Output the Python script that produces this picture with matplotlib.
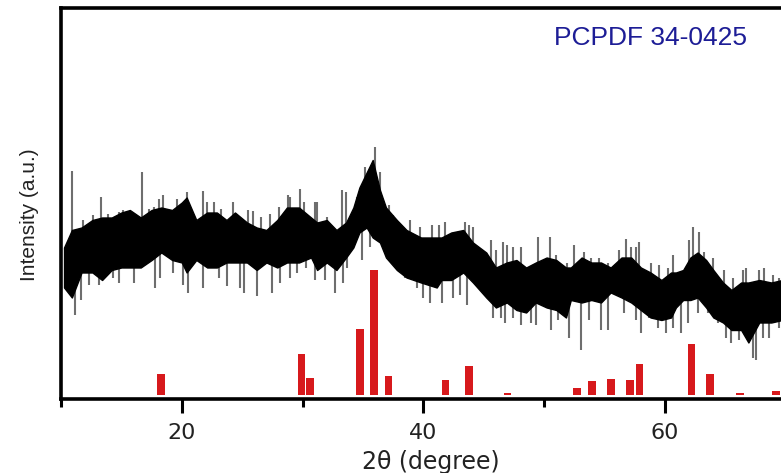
import numpy as np
import matplotlib
matplotlib.use("Agg")
import matplotlib.pyplot as plt
from matplotlib import font_manager
from matplotlib.ticker import MultipleLocator

# ---------------- data ----------------
# Reference pattern PCPDF 34-0425: peak positions (2theta) and relative intensities
ref_pos = [18.29, 29.92, 30.60, 34.74, 35.89, 37.13, 41.84, 43.78, 46.94,
           52.73, 53.94, 55.54, 57.11, 57.88, 62.21, 63.72, 66.20, 69.17]
ref_int = [17, 33, 14, 53, 100, 15, 12, 23, 2,
           6, 11, 13, 12, 25, 41, 17, 2, 3]

# Measured pattern: dense core band (upper / lower envelope)
core_x = [10.25, 10.9, 11.7, 12.6, 13.4, 14.2, 15.0, 15.7, 16.6, 17.5, 18.3, 19.2,
          20.0, 20.4, 21.2, 22.1, 22.9, 23.7, 24.4, 25.4, 26.2, 27.0, 27.9, 28.7,
          29.7, 30.7, 31.2, 32.0, 32.8, 33.6, 34.2, 34.7, 35.3, 35.8, 36.4, 36.9,
          37.8, 38.6, 39.8, 41.1, 41.5, 42.3, 43.3, 44.1, 45.2, 46.0, 46.9, 47.7,
          48.5, 49.3, 50.2, 51.0, 51.8, 52.2, 53.1, 53.9, 54.7, 55.5, 56.4, 57.2,
          58.0, 58.8, 59.7, 60.5, 60.9, 61.5, 62.1, 62.7, 63.4, 64.0, 64.8, 65.5,
          66.3, 66.9, 67.8, 68.8, 69.7]
core_hi = [118, 132, 134, 140, 142, 142, 146, 148, 142, 148, 150, 148,
           154, 158, 140, 146, 146, 140, 146, 138, 134, 132, 140, 150,
           150, 142, 138, 140, 132, 138, 150, 166, 178, 188, 164, 150,
           140, 132, 126, 126, 126, 130, 132, 122, 114, 102, 106, 108,
           102, 106, 110, 108, 102, 102, 110, 106, 106, 102, 110, 110,
           102, 98, 92, 98, 98, 100, 110, 114, 108, 100, 90, 84,
           90, 90, 92, 90, 92]
core_lo = [86, 78, 98, 98, 92, 100, 102, 102, 102, 108, 114, 108,
           106, 98, 108, 102, 102, 106, 106, 106, 100, 106, 102, 106,
           106, 110, 100, 106, 100, 110, 118, 130, 134, 126, 122, 110,
           100, 94, 90, 86, 92, 92, 98, 90, 78, 70, 74, 68,
           66, 74, 70, 68, 62, 76, 74, 76, 74, 82, 78, 74,
           68, 62, 60, 62, 70, 76, 76, 78, 70, 62, 58, 52,
           52, 42, 58, 58, 60]

# Measured pattern: isolated spikes above the band
up_x = [10.91, 11.84, 12.67, 13.28, 13.91, 14.77, 15.15, 15.56, 16.67, 17.30, 17.71,
        18.10, 18.45, 18.87, 19.61, 20.39, 21.74, 22.12, 22.67, 23.25, 24.27, 24.82,
        25.51, 25.93, 26.53, 27.30, 28.07, 28.76, 28.95, 29.78, 30.11, 31.02, 31.18,
        32.01, 33.25, 33.61, 34.49, 35.18, 36.01, 36.42, 37.11, 37.52, 38.90, 39.73,
        40.69, 41.32, 41.82, 42.73, 43.41, 43.74, 44.11, 45.56, 46.03, 46.59, 46.94,
        47.41, 48.10, 49.48, 50.44, 50.99, 51.90, 52.50, 53.33, 53.88, 54.57, 55.26,
        56.22, 56.78, 57.19, 57.60, 57.88, 58.84, 59.53, 60.22, 60.64, 62.01, 62.29,
        62.83, 63.25, 63.94, 64.90, 65.59, 66.42, 66.69, 67.79, 68.21, 68.90, 69.45]
up_y = [179, 140, 144, 158, 145, 146, 148, 147, 178, 149, 150,
        157, 160, 149, 157, 162, 163, 154, 154, 149, 154, 140,
        148, 147, 142, 145, 150, 160, 158, 165, 154, 154, 154,
        142, 164, 162, 158, 182, 198, 178, 152, 144, 140, 134,
        136, 136, 138, 130, 138, 136, 134, 124, 116, 122, 120,
        118, 118, 126, 126, 112, 106, 120, 114, 110, 110, 106,
        116, 125, 118, 118, 122, 106, 104, 102, 112, 124, 134,
        130, 114, 110, 100, 94, 100, 102, 100, 102, 96, 94]

# Measured pattern: isolated spikes below the band
dn_x = [11.13, 11.68, 12.29, 13.17, 14.32, 14.82, 16.03, 17.77, 18.18, 19.28, 20.06,
        20.52, 21.74, 22.29, 23.06, 23.72, 24.82, 25.15, 26.26, 27.44, 28.12, 28.95,
        29.50, 30.27, 31.02, 31.88, 32.70, 33.33, 33.66, 34.90, 35.60, 36.83, 37.25,
        38.49, 39.45, 40.00, 40.55, 41.51, 42.45, 43.00, 43.64, 45.76, 46.45, 46.72,
        47.41, 48.10, 48.87, 49.34, 50.58, 51.13, 52.09, 53.06, 53.74, 54.71, 55.26,
        56.64, 57.60, 58.02, 58.70, 59.40, 60.08, 60.64, 61.32, 61.88, 62.70, 63.53,
        64.36, 65.04, 65.45, 66.14, 66.83, 67.25, 67.52, 68.07, 68.63, 69.45]
dn_y = [64, 76, 88, 88, 94, 90, 90, 86, 94, 98, 88,
        82, 86, 102, 94, 87, 86, 82, 79, 82, 90, 94,
        98, 102, 92, 92, 82, 90, 102, 108, 118, 116, 114,
        94, 86, 78, 74, 74, 78, 80, 72, 62, 62, 58,
        62, 56, 58, 56, 52, 60, 46, 36, 60, 52, 52,
        66, 60, 50, 62, 54, 50, 54, 50, 58, 66, 66,
        58, 46, 42, 44, 46, 30, 28, 46, 46, 54]

x_ticks_major = [20, 40, 60]
x_label = "2\u03b8 (degree)"
y_label = "Intensity (a.u.)"
card_label = "PCPDF 34-0425"

# ---------------- figure ----------------
W, H = 781, 473
fig = plt.figure(figsize=(W / 100, H / 100), dpi=100)
ax = fig.add_axes([61 / W, 1 - 399 / H, (W - 61) / W, (399 - 8) / H])

names = {f.name for f in font_manager.fontManager.ttflist}
narrow = "Liberation Sans Narrow" if "Liberation Sans Narrow" in names else "Liberation Sans"
card_size = 22 if narrow == "Liberation Sans Narrow" else 19

core_x_a = np.array(core_x)
mid = (np.array(core_hi) + np.array(core_lo)) / 2.0

# spikes (grey), drawn below the core band
ax.vlines(up_x, np.interp(up_x, core_x_a, mid), up_y, color="#6e6e6e", lw=1.5, zorder=2)
ax.vlines(dn_x, dn_y, np.interp(dn_x, core_x_a, mid), color="#6e6e6e", lw=1.5, zorder=2)
# core band (black)
ax.fill_between(core_x, core_lo, core_hi, color="black", lw=1.0, edgecolor="black", zorder=3)

# reference bars
ax.bar(ref_pos, ref_int, width=0.62, color="#d7191c", zorder=4)

ax.set_xlim(10, 69.6)
ax.set_ylim(-3.2, 309.6)

ax.xaxis.set_major_locator(plt.FixedLocator(x_ticks_major))
ax.xaxis.set_minor_locator(MultipleLocator(10))
ax.tick_params(axis="x", which="major", direction="out", length=10, width=2.2,
               pad=7, labelsize=16, labelcolor="#222222")
ax.tick_params(axis="x", which="minor", direction="out", length=5.5, width=2.2)
for lab in ax.get_xticklabels():
    lab.set_family("DejaVu Sans")
ax.set_yticks([])

for s in ("left", "bottom", "top"):
    ax.spines[s].set_linewidth(2.6)
ax.spines["right"].set_visible(False)

ax.set_xlabel(x_label, fontsize=17, family="DejaVu Sans", color="#222222")
ax.xaxis.set_label_coords((431 - 61) / (W - 61), -(462 - 399) / (399 - 8), transform=ax.transAxes)
ax.xaxis.label.set_va("center")

ax.set_ylabel(y_label, fontsize=15, family="Liberation Sans", color="#222222")
ax.yaxis.set_label_coords(-(61 - 30) / (W - 61), (399 - 215) / (399 - 8), transform=ax.transAxes)
ax.yaxis.label.set_va("center")

ax.text((651 - 61) / (W - 61), (399 - 38) / (399 - 8), card_label, transform=ax.transAxes,
        ha="center", va="center", fontsize=card_size, family=narrow, color="#1d1d96")

fig.savefig("out.png", dpi=100)
